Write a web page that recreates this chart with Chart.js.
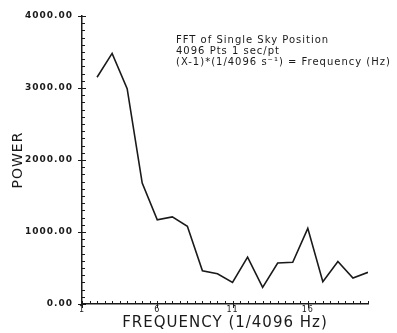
<!DOCTYPE html>
<html>
<head>
<meta charset="utf-8">
<script src="https://cdn.jsdelivr.net/npm/chart.js@4/dist/chart.umd.min.js"></script>
<style>
  html, body { margin: 0; padding: 0; background: #fff; }
  #wrap { width: 397px; height: 333px; }
</style>
</head>
<body>
<div id="wrap"><canvas id="grafico"></canvas></div>
<script>
// dados
const freqBins = [2, 3, 4, 5, 6, 7, 8, 9, 10, 11, 12, 13, 14, 15, 16, 17, 18, 19, 20];
const powerValues = [3150, 3480, 2990, 1680, 1170, 1210, 1080, 460, 420, 300, 650, 230, 570, 580, 1050, 310, 590, 360, 440];
const xTickLabels = [1, 6, 11, 16];
const yTickLabels = [0, 1000, 2000, 3000, 4000];
const noteLines = [
  "FFT of Single Sky Position",
  "4096 Pts 1 sec/pt",
  "(X-1)*(1/4096 s\u207B\u00B9) = Frequency (Hz)"
];

const ink = "#1a1a1a";
const fontFamily = "'DejaVu Sans', sans-serif";

// marcas de escala pequenas (para dentro), como no original
const tickMarks = {
  id: "tickMarks",
  beforeDraw(chart) {
    chart.ctx.letterSpacing = "1px";
  },
  afterDraw(chart) {
    const ctx = chart.ctx;
    const x = chart.scales.x;
    const y = chart.scales.y;
    const area = chart.chartArea;
    ctx.save();
    ctx.strokeStyle = ink;
    ctx.lineWidth = 1;
    ctx.beginPath();
    for (let v = x.min; v <= x.max + 0.001; v += 0.5) {
      const px = Math.round(x.getPixelForValue(v)) + 0.5;
      ctx.moveTo(px, area.bottom);
      ctx.lineTo(px, area.bottom - 3);
    }
    xTickLabels.forEach((v) => {
      const px = Math.round(x.getPixelForValue(v)) + 0.5;
      ctx.moveTo(px, area.bottom);
      ctx.lineTo(px, area.bottom + 4);
    });
    for (let v = y.min; v <= y.max + 0.001; v += 100) {
      const py = Math.round(y.getPixelForValue(v)) + 0.5;
      ctx.moveTo(area.left, py);
      ctx.lineTo(area.left + 3, py);
    }
    yTickLabels.forEach((v) => {
      const py = Math.round(y.getPixelForValue(v)) + 0.5;
      ctx.moveTo(area.left - 4, py);
      ctx.lineTo(area.left + 4, py);
    });
    ctx.stroke();

    // texto explicativo
    ctx.fillStyle = ink;
    ctx.font = "10px " + fontFamily;
    ctx.letterSpacing = "1px";
    ctx.textAlign = "left";
    ctx.textBaseline = "middle";
    noteLines.forEach((t, i) => {
      ctx.fillText(t, 176, 40 + i * 11);
    });
    ctx.restore();
  }
};

new Chart(document.getElementById("grafico"), {
  type: "line",
  data: {
    datasets: [
      {
        label: "Power",
        data: freqBins.map((f, i) => ({ x: f, y: powerValues[i] })),
        borderColor: ink,
        borderWidth: 1.6,
        pointRadius: 0,
        tension: 0,
        fill: false,
      },
    ],
  },
  plugins: [tickMarks],
  options: {
    responsive: true,
    maintainAspectRatio: false,
    animation: false,
    layout: { padding: { left: 0, top: 16, right: 29, bottom: 0 } },
    plugins: {
      legend: { display: false },
      tooltip: { enabled: false },
    },
    scales: {
      x: {
        type: "linear",
        min: 1,
        max: 20,
        afterBuildTicks: (scale) => {
          scale.ticks = xTickLabels.map((v) => ({ value: v }));
        },
        afterFit: (scale) => { scale.height = 29; },
        grid: { display: false, drawTicks: false },
        border: { display: true, color: ink, width: 1.5 },
        ticks: {
          color: ink,
          padding: 1,
          maxRotation: 0,
          autoSkip: false,
          font: { family: fontFamily, size: 8 },
          callback: (v) => String(v),
        },
        title: {
          display: true,
          text: "FREQUENCY (1/4096 Hz)",
          color: ink,
          font: { family: fontFamily, size: 15 },
          padding: { top: 0, bottom: 1 },
        },
      },
      y: {
        min: 0,
        max: 4000,
        afterBuildTicks: (scale) => {
          scale.ticks = yTickLabels.map((v) => ({ value: v }));
        },
        afterFit: (scale) => { scale.width = 82; },
        grid: { display: false, drawTicks: false },
        border: { display: true, color: ink, width: 1.5 },
        ticks: {
          color: ink,
          padding: 9,
          font: { family: fontFamily, size: 9, weight: "bold" },
          callback: (v) => Number(v).toFixed(2),
        },
        title: {
          display: true,
          text: "POWER",
          color: ink,
          font: { family: fontFamily, size: 14 },
          padding: { top: 10, bottom: 0 },
        },
      },
    },
  },
});
</script>
</body>
</html>
